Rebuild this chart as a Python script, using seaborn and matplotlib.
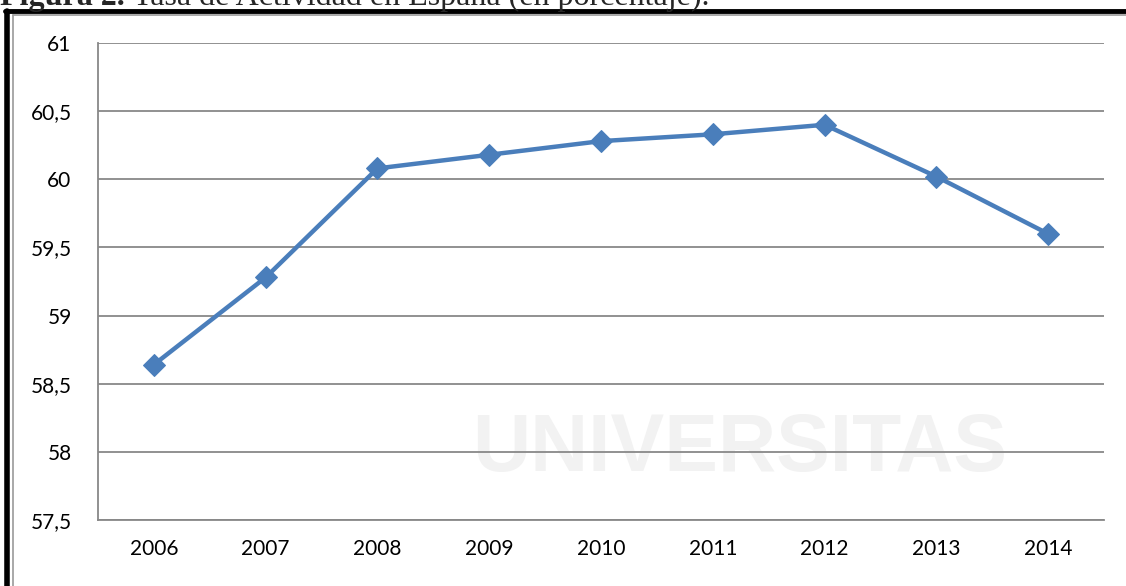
import matplotlib
matplotlib.use("Agg")
import matplotlib.pyplot as plt
from matplotlib.lines import Line2D
import pandas as pd
import seaborn as sns

# ---------------------------------------------------------------------------
# Data: tasa de actividad en España (%)
# ---------------------------------------------------------------------------
years = [2006, 2007, 2008, 2009, 2010, 2011, 2012, 2013, 2014]
tasa = [58.64, 59.28, 60.08, 60.18, 60.28, 60.33, 60.40, 60.02, 59.60]
y_ticks = [57.5, 58, 58.5, 59, 59.5, 60, 60.5, 61]
y_labels = ["57,5", "58", "58,5", "59", "59,5", "60", "60,5", "61"]

W, H = 1126, 586
LINE_BLUE = "#4a7ebb"
GRID_GREY = "#888888"

sns.set_style("white")
plt.rcParams["font.family"] = ["Lato", "DejaVu Sans"]

df = pd.DataFrame({"year": years, "tasa": tasa})

fig = plt.figure(figsize=(W / 100, H / 100), dpi=100)
ax = fig.add_axes([98 / W, 1 - 520 / H, (1104 - 98) / W, (520 - 43) / H])
ax.set_zorder(2)

# faint watermark behind the chart
fig.text(740 / W, 1 - 450 / H, "UNIVERSITAS", fontsize=58, color="#f2f2f2",
         ha="center", va="center", fontweight="bold", family="Liberation Sans",
         zorder=1)

sns.lineplot(data=df, x="year", y="tasa", ax=ax, color=LINE_BLUE, linewidth=3.2,
             marker="D", markersize=11, markeredgecolor=LINE_BLUE, zorder=5)

ax.set_facecolor("none")
ax.set_xlim(years[0] - 0.5, years[-1] + 0.5)
ax.set_ylim(y_ticks[0], y_ticks[-1])
ax.set_yticks(y_ticks)
ax.set_yticklabels(y_labels)
ax.set_xticks(years)
ax.set_xticklabels([str(y) for y in years])
ax.set_xticks([y - 0.5 for y in years] + [years[-1] + 0.5], minor=True)
ax.set_xlabel("")
ax.set_ylabel("")

ax.grid(axis="y", color=GRID_GREY, linewidth=1.3)
ax.set_axisbelow(True)
for side in ["top", "right"]:
    ax.spines[side].set_visible(False)
for side in ["left", "bottom"]:
    ax.spines[side].set_color(GRID_GREY)
    ax.spines[side].set_linewidth(1.3)

ax.tick_params(axis="x", which="major", length=0, pad=14, labelsize=15, colors="black")
ax.tick_params(axis="x", which="minor", length=7, width=1.3, color=GRID_GREY,
               direction="out")
ax.tick_params(axis="y", length=7, width=1.3, color=GRID_GREY, direction="out",
               pad=12, labelsize=15, labelcolor="black")

# frame of the document figure
fig.add_artist(Line2D([7 / W, 7 / W], [0, 1 - 11 / H], color="black", linewidth=4,
                      transform=fig.transFigure))
fig.add_artist(Line2D([5 / W, 1], [1 - 11 / H, 1 - 11 / H], color="black", linewidth=3.5,
                      transform=fig.transFigure))
fig.add_artist(Line2D([13 / W, 13 / W], [0, 1 - 15 / H], color="#9a9a9a", linewidth=1.2,
                      transform=fig.transFigure))
fig.add_artist(Line2D([13 / W, 1], [1 - 15 / H, 1 - 15 / H], color="#9a9a9a", linewidth=1.2,
                      transform=fig.transFigure))

# caption, cut at the top edge as in the page scan
cap_y = 1 - 5 / H
t1 = fig.text(0, cap_y, "Figura 2. ", fontsize=23, fontweight="bold",
              family="Liberation Serif", va="baseline", ha="left")
fig.canvas.draw()
bb = t1.get_window_extent()
fig.text(bb.x1 / W, cap_y, "Tasa de Actividad en España (en porcentaje).", fontsize=23,
         family="Liberation Serif", va="baseline", ha="left")

fig.savefig("out.png", dpi=100)
